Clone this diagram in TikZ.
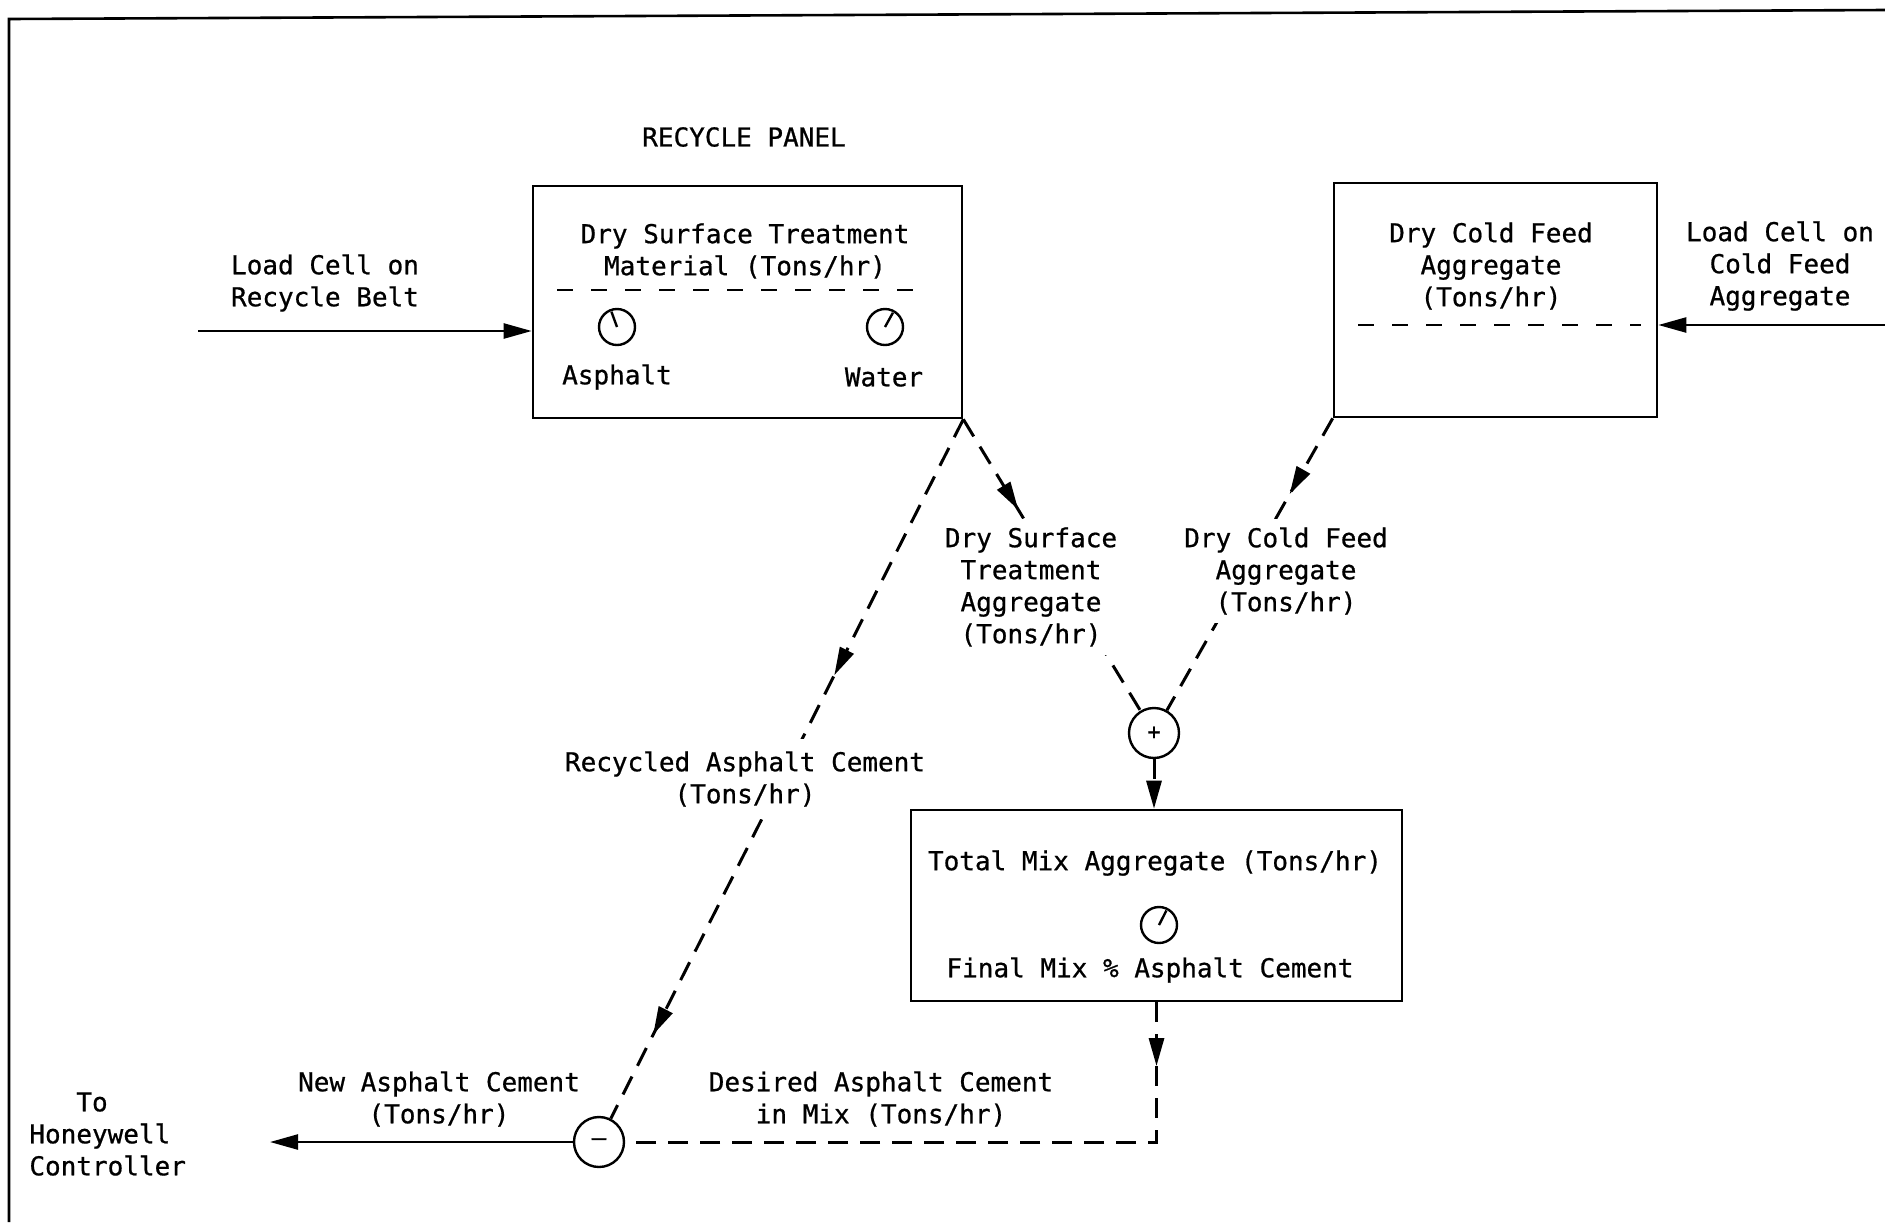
\documentclass[tikz,border=0pt]{standalone}
\usepackage{fontspec}
\newfontfamily\typer[FakeBold=0.7]{DejaVu Sans Mono}
\usetikzlibrary{arrows.meta,decorations.markings,calc,backgrounds,fit}

\begin{document}
\begin{tikzpicture}[x=0.5pt,y=-0.5pt,
  >={Triangle[length=14pt,width=7.5pt]},
  every node/.style={font=\typer\fontsize{13}{16}\selectfont, inner sep=0pt},
  lbl/.style={align=center},
  clbl/.style={align=center, fill=white, inner sep=4pt},
  panel/.style={draw, line width=1.3pt, inner sep=0pt},
  gauge/.style={draw, circle, line width=1.2pt, minimum size=18pt, inner sep=0pt},
  sumj/.style={draw, circle, line width=1.2pt, minimum size=25pt, inner sep=0pt},
  needle/.style={line width=1.2pt},
  divider/.style={line width=1.2pt, dash pattern=on 8pt off 9pt},
  dline/.style={line width=1.5pt, dash pattern=on 10pt off 6pt},
  sline/.style={line width=1.2pt},
  marr/.style={postaction={decorate,decoration={markings,
      mark=at position #1 with {\arrow{>}}}}}]

\useasboundingbox (0,0) rectangle (1885,1222);

% outer frame
\draw[line width=1.3pt] (9,1222) -- (9,19) -- (1885,10);

% recycle panel
\node (rptitle) at (744,137) {RECYCLE PANEL};
\node[panel, fit={(533,186) (962,418)}] (rbox) {};
\node[lbl] (rtitle) at (745,251) {Dry Surface Treatment\\Material (Tons/hr)};
\draw[divider] (557,290) -- (918,290);
\node[gauge] (ga) at (617,327) {};
\draw[needle] (ga.center) -- ($(ga.center)!0.85!(ga.110)$);
\node[gauge] (gw) at (885,327) {};
\draw[needle] (gw.center) -- ($(gw.center)!0.85!(gw.61)$);
\node (asl) at (617,377) {Asphalt};
\node (wal) at (884,377) {Water};

% load cell on the recycle belt
\node[lbl] (lcr) at (325,283) {Load Cell on\\Recycle Belt};
\coordinate (lcrs) at (198,331);

% cold feed panel
\node[panel, fit={(1334,183) (1657,417)}] (cbox) {};
\node[lbl] (ctitle) at (1491,266) {Dry Cold Feed\\Aggregate\\(Tons/hr)};
\draw[divider] (1358,325) -- (1641,325);
\node[lbl] (lcc) at (1780,266) {Load Cell on\\Cold Feed\\Aggregate};
\coordinate (lccs) at (1885,325);

% flow labels
\node[clbl] (dstl) at (1031,587) {Dry Surface\\Treatment\\Aggregate\\(Tons/hr)};
\node[clbl] (dcfl) at (1286,571) {Dry Cold Feed\\Aggregate\\(Tons/hr)};
\node[clbl, inner ysep=6pt] (racl) at (745,779) {Recycled Asphalt Cement\\(Tons/hr)};

% summing junctions
\node[sumj, font=\typer\fontsize{11}{12}\selectfont] (plus) at (1154,733) {+};
\node[sumj, font=\typer\fontsize{12}{12}\selectfont] (minus) at (599,1142) {–};

% total mix panel
\node[panel, fit={(911,810) (1402,1001)}] (tbox) {};
\node (ttitle) at (1155,863) {Total Mix Aggregate (Tons/hr)};
\node[gauge] (gt) at (1159,925) {};
\draw[needle] (gt.center) -- ($(gt.center)!0.85!(gt.63)$);
\node (tfl) at (1150,970) {Final Mix \% Asphalt Cement};

% bottom labels
\node[lbl] (nacl) at (439,1099) {New Asphalt Cement\\(Tons/hr)};
\node[lbl] (dacl) at (881,1099) {Desired Asphalt Cement\\in Mix (Tons/hr)};
\node[align=left, anchor=west] (hon) at (29,1134) {\hspace*{23.5pt}To\\Honeywell\\Controller};
\coordinate (honend) at (270,1142);

% solid signal lines
\draw[sline,->] (lcrs) -- (lcrs -| rbox.west);
\draw[sline,->] (lccs) -- (lccs -| cbox.east);
\draw[sline,->] (minus.west) -- (honend);

% dashed computed flows, behind the labels
\begin{scope}[on background layer]
  \fill[white] (0,0) rectangle (1885,1222);
  \draw[dline, marr=0.31] (rbox.south east) -- (plus);
  \draw[dline, marr=0.26] (cbox.south west) -- (plus);
  \draw[dline, marr=0.366, marr=0.88] (rbox.south east) -- (minus);
  \draw[dline, ->] (plus.south) -- (plus.south |- tbox.north);
  \draw[dline, marr=0.095] (tbox.south) |- (minus.east);
\end{scope}
\end{tikzpicture}
\end{document}
